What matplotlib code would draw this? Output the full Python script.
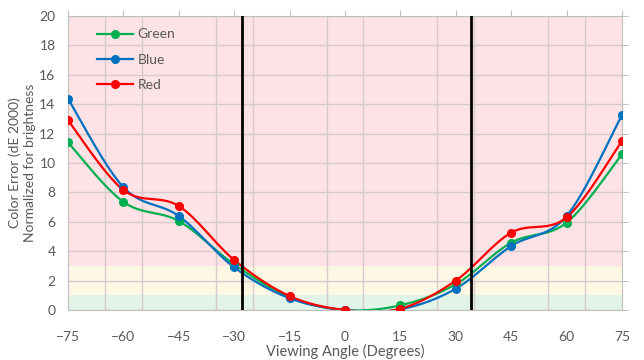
import numpy as np
import matplotlib
matplotlib.use("Agg")
import matplotlib.pyplot as plt

# viewing angles and colour error values
angles = [-75, -60, -45, -30, -15, 0, 15, 30, 45, 60, 75]
green = [11.4, 7.35, 6.05, 3.1, 0.88, 0.0, 0.32, 1.75, 4.58, 5.94, 10.6]
blue = [14.37, 8.35, 6.39, 2.9, 0.8, 0.0, 0.05, 1.45, 4.35, 6.39, 13.27]
red = [12.9, 8.16, 7.07, 3.4, 0.95, 0.0, 0.09, 2.0, 5.26, 6.3, 11.5]
series_names = ["Green", "Blue", "Red"]
limit_angles = [-28, 34]

grey = "#595959"
plt.rcParams["font.family"] = ["Lato", "DejaVu Sans"]


def smooth(xs, ys, n=30):
    """Excel-like smoothed line (Catmull-Rom bezier) through the points."""
    xs = np.asarray(xs, float)
    ys = np.asarray(ys, float)
    px = np.concatenate([[xs[0]], xs, [xs[-1]]])
    py = np.concatenate([[ys[0]], ys, [ys[-1]]])
    out_x, out_y = [], []
    t = np.linspace(0, 1, n)
    for i in range(1, len(px) - 2):
        p0 = np.array([px[i], py[i]])
        p3 = np.array([px[i + 1], py[i + 1]])
        p1 = p0 + (p3 - np.array([px[i - 1], py[i - 1]])) / 6
        p2 = p3 - (np.array([px[i + 2], py[i + 2]]) - p0) / 6
        b = ((1 - t) ** 3)[:, None] * p0 + (3 * (1 - t) ** 2 * t)[:, None] * p1 \
            + (3 * (1 - t) * t ** 2)[:, None] * p2 + (t ** 3)[:, None] * p3
        out_x.extend(b[:, 0])
        out_y.extend(b[:, 1])
    return out_x, out_y


fig = plt.figure(figsize=(6.44, 3.6), dpi=100)
ax = fig.add_axes([0.1056, 0.1389, 0.8602, 0.8167])

# coloured bands
ax.axhspan(0, 1, color="#e2f4e8", zorder=0, lw=0)
ax.axhspan(1, 3, color="#fef7e3", zorder=0, lw=0)
ax.axhspan(3, 20, color="#fde3e5", zorder=0, lw=0)

ax.set_xlim(-75, 75)
ax.set_ylim(0, 20)
ax.set_xticks(angles)
ax.set_yticks(range(0, 21, 2))
ax.set_xticks(range(-75, 76, 10), minor=True)
ax.grid(True, which="minor", axis="x", color="#d6cacc", lw=1, zorder=0.5)
ax.grid(True, which="major", axis="y", color="#d6cacc", lw=1, zorder=0.5)
ax.tick_params(axis="both", which="both", length=0, colors=grey, labelsize=10)
ax.tick_params(axis="x", pad=15)
ax.tick_params(axis="y", pad=9)
for s in ax.spines.values():
    s.set_color("#bfbfbf")

top = ax.secondary_xaxis("top")
top.set_xticks(angles)
top.tick_params(length=4, color="#bfbfbf", labeltop=False)
top.spines["top"].set_visible(False)
right = ax.secondary_yaxis("right")
right.set_yticks(range(0, 21, 2))
right.tick_params(length=4, color="#bfbfbf", labelright=False)
right.spines["right"].set_visible(False)

colors = ["#00b050", "#0070c0", "#ff0000"]
for name, vals, c in zip(series_names, [green, blue, red], colors):
    sx, sy = smooth(angles, vals)
    ax.plot(sx, sy, color=c, lw=1.6, zorder=3)
    ax.plot(angles, vals, "o", color=c, ms=5.5, zorder=4)
    ax.plot([], [], "-o", color=c, lw=1.6, ms=5.5, label=name)

for a in limit_angles:
    ax.axvline(a, color="black", lw=2, zorder=5)

ax.legend(loc="upper left", bbox_to_anchor=(0.03, 1.0), frameon=False,
          fontsize=10, labelcolor=grey, handlelength=2.6, handletextpad=0.3,
          labelspacing=0.95)

ax.set_xlabel("Viewing Angle (Degrees)", color=grey, fontsize=10.5, labelpad=1)
fig.text(22 / 644, 1 - 163 / 360, "Color Error (dE 2000)\nNormalized for brightness",
         rotation=90, ha="center", va="center", color=grey, fontsize=10,
         linespacing=1.25, multialignment="center")

fig.savefig("out.png", dpi=100)
